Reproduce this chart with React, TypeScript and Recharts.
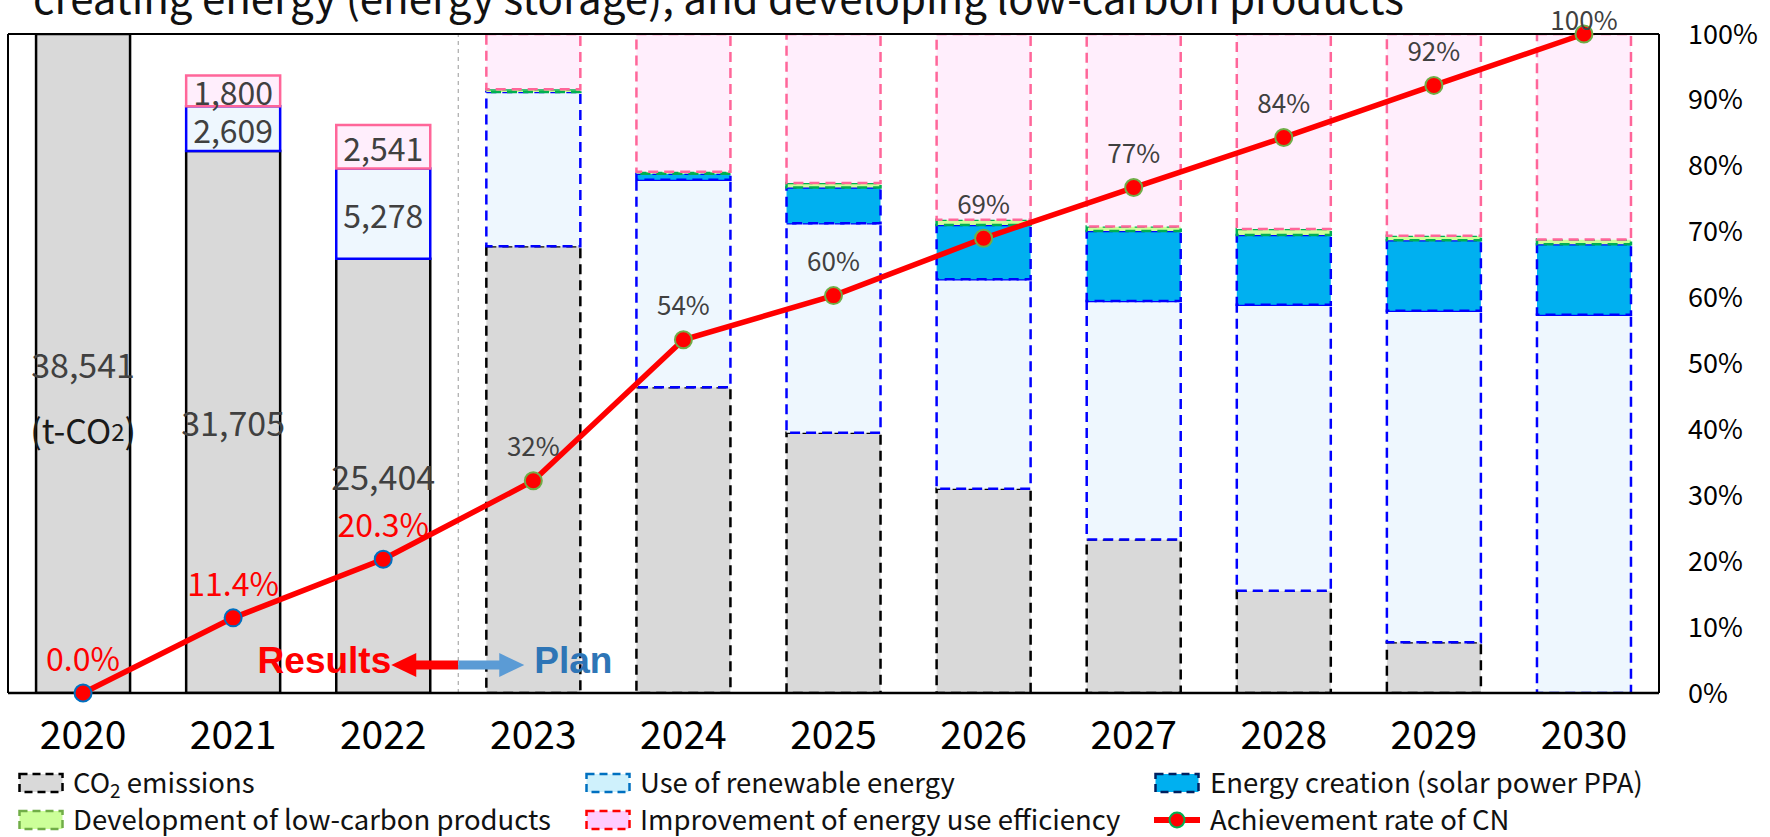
import React from 'react';
import {
  ComposedChart,
  Bar,
  Line,
  XAxis,
  YAxis,
  CartesianGrid,
  ReferenceLine,
  LabelList,
  Cell,
} from 'recharts';

// ---------------- data ----------------
const years = ['2020', '2021', '2022', '2023', '2024', '2025', '2026', '2027', '2028', '2029', '2030'];
// t-CO2
const co2Emissions = [38541, 31705, 25404, 26131, 17883, 15224, 11948, 8980, 5974, 2968, 0];
const renewableEnergy = [0, 2609, 5278, 9019, 12140, 12256, 12256, 13952, 16727, 19386, 22123];
const energyCreation = [0, 0, 0, 0, 347, 2081, 3160, 4085, 4085, 4124, 4124];
const lowCarbonProducts = [0, 0, 0, 154, 116, 270, 308, 270, 347, 270, 270];
const efficiencyImprovement = [0, 1800, 2541, 3237, 8055, 8710, 10869, 11254, 11408, 11793, 12024];
// achievement rate of carbon neutrality (fraction)
const cnAchievementRate = [0, 0.114, 0.203, 0.322, 0.536, 0.603, 0.69, 0.767, 0.843, 0.922, 1.0];
const resultYearCount = 3; // 2020-2022 are results, the rest is plan
const rateTicks = [0, 0.1, 0.2, 0.3, 0.4, 0.5, 0.6, 0.7, 0.8, 0.9, 1.0];
const gridTicks = [0, 5000, 10000, 15000, 20000, 25000, 30000, 35000];
const baseEmissions = co2Emissions[0];

const titleText = 'creating energy (energy storage), and developing low-carbon products';

const data = years.map((year, i) => {
  const isResult = i < resultYearCount;
  return {
    year,
    co2: co2Emissions[i],
    ren: renewableEnergy[i],
    ec: energyCreation[i],
    lc: lowCarbonProducts[i],
    eff: efficiencyImprovement[i],
    rate: cnAchievementRate[i],
    co2Label: isResult ? co2Emissions[i] : null,
    renLabel: isResult && renewableEnergy[i] > 0 ? renewableEnergy[i] : null,
    effLabel: isResult && efficiencyImprovement[i] > 0 ? efficiencyImprovement[i] : null,
  };
});

// ---------------- styles ----------------
const FONT = '"Noto Sans CJK JP", "Noto Sans", sans-serif';
const BOLD_FONT = '"Liberation Sans", Arial, sans-serif';
const DASH = '10 6';
const dashFor = (i: number) => (i < resultYearCount ? '0' : DASH);

const fmt = (v: number) => v.toLocaleString('en-US');

const renderCo2Label = (props: any) => {
  const { x, y, width, height, value } = props;
  if (value === null || value === undefined || value === 0) return null;
  const cx = Number(x) + Number(width) / 2;
  const cy = Number(y) + Number(height) / 2;
  const withUnit = value === baseEmissions;
  return (
    <g>
      <text x={cx} y={cy} textAnchor="middle" dominantBaseline="central" fontSize={34} fill="#404040" fontFamily={FONT}>
        {fmt(value)}
      </text>
      {withUnit && (
        <text x={cx} y={cy + 66} textAnchor="middle" dominantBaseline="central" fontSize={34} fill="#1a1a1a" fontFamily={FONT}>
          (t-CO<tspan fontSize={24}>2</tspan>)
        </text>
      )}
    </g>
  );
};

const renderSegmentLabel = (props: any) => {
  const { x, y, width, height, value } = props;
  if (value === null || value === undefined || value === 0) return null;
  const cx = Number(x) + Number(width) / 2;
  const cy = Number(y) + Number(height) / 2;
  return (
    <text x={cx} y={cy} textAnchor="middle" dominantBaseline="central" fontSize={32} fill="#404040" fontFamily={FONT}>
      {fmt(value)}
    </text>
  );
};

const renderRateLabel = (props: any) => {
  const { x, y, value, index } = props;
  if (value === null || value === undefined) return null;
  const isResult = index < resultYearCount;
  const cy = Math.max(Number(y) - 36, 18);
  if (isResult) {
    return (
      <text x={x} y={cy} textAnchor="middle" dominantBaseline="central" fontSize={32} fill="#FF0000" fontFamily={FONT}>
        {(value * 100).toFixed(1)}%
      </text>
    );
  }
  return (
    <text x={x} y={cy} textAnchor="middle" dominantBaseline="central" fontSize={26} fill="#404040" fontFamily={FONT}>
      {Math.round(value * 100)}%
    </text>
  );
};

const renderDot = (props: any) => {
  const { cx, cy, index } = props;
  if (cx == null || cy == null) return <g key={`d-${index}`} />;
  const isResult = index < resultYearCount;
  return (
    <circle
      key={`d-${index}`}
      cx={cx}
      cy={cy}
      r={8.5}
      fill="#FF0000"
      stroke={isResult ? '#0070C0' : '#70AD47'}
      strokeWidth={2}
    />
  );
};

const renderPhaseLabel = (props: any) => {
  const vb = props.viewBox || {};
  const x = Number(vb.x);
  const bottom = Number(vb.y) + Number(vb.height);
  const ay = bottom - 28;
  const head = 25;
  const half = 12;
  return (
    <g>
      <line x1={x} y1={ay} x2={x - 67 + head - 2} y2={ay} stroke="#FF0000" strokeWidth={9} />
      <polygon points={`${x - 67},${ay} ${x - 67 + head},${ay - half} ${x - 67 + head},${ay + half}`} fill="#FF0000" />
      <line x1={x} y1={ay} x2={x + 66 - head + 2} y2={ay} stroke="#5B9BD5" strokeWidth={9} />
      <polygon points={`${x + 66},${ay} ${x + 66 - head},${ay - half} ${x + 66 - head},${ay + half}`} fill="#5B9BD5" />
      <text x={x - 67} y={ay - 5} textAnchor="end" dominantBaseline="central" fontSize={37} fontWeight={700} fill="#FF0000" fontFamily={BOLD_FONT}>
        Results
      </text>
      <text x={x + 76} y={ay - 5} textAnchor="start" dominantBaseline="central" fontSize={37} fontWeight={700} fill="#2E75B6" fontFamily={BOLD_FONT}>
        Plan
      </text>
    </g>
  );
};

const renderYearTick = (props: any) => {
  const { x, y, payload } = props;
  return (
    <text x={x} y={Number(y) + 56} textAnchor="middle" fontSize={39} fill="#000" fontFamily={FONT}>
      {payload.value}
    </text>
  );
};

// ---------------- legend ----------------
type LegendItem = { label: React.ReactNode; fill?: string; stroke?: string; kind: 'box' | 'line'; left: number; textLeft: number; row: number };

const legendItems: LegendItem[] = [
  { label: <span>CO<span style={{ fontSize: 19, position: 'relative', top: 5 }}>2</span> emissions</span>, fill: '#D9D9D9', stroke: '#000000', kind: 'box', left: 18, textLeft: 73, row: 0 },
  { label: 'Use of renewable energy', fill: '#CFF1FC', stroke: '#0070C0', kind: 'box', left: 585, textLeft: 640, row: 0 },
  { label: 'Energy creation (solar power PPA)', fill: '#00B0F0', stroke: '#002060', kind: 'box', left: 1154, textLeft: 1210, row: 0 },
  { label: 'Development of low-carbon products', fill: '#CCFF99', stroke: '#70AD47', kind: 'box', left: 18, textLeft: 73, row: 1 },
  { label: 'Improvement of energy use efficiency', fill: '#FFCCFF', stroke: '#FF0000', kind: 'box', left: 585, textLeft: 640, row: 1 },
  { label: 'Achievement rate of CN', kind: 'line', left: 1154, textLeft: 1210, row: 1 },
];
const legendRowCenters = [781, 818];

const LegendIcon = ({ item }: { item: LegendItem }) => {
  if (item.kind === 'line') {
    return (
      <svg width={46} height={22}>
        <line x1={0} y1={11} x2={46} y2={11} stroke="#FF0000" strokeWidth={6} />
        <circle cx={23} cy={11} r={7.5} fill="#FF0000" stroke="#00B050" strokeWidth={2} />
      </svg>
    );
  }
  return (
    <svg width={46} height={22}>
      <rect x={1.5} y={2} width={43} height={18} fill={item.fill} stroke={item.stroke} strokeWidth={2.5} strokeDasharray="8 5" />
    </svg>
  );
};

const ChartLegend = () => (
  <>
    {legendItems.map((item, i) => (
      <React.Fragment key={i}>
        <div style={{ position: 'absolute', left: item.left, top: legendRowCenters[item.row] - 11 + 2, width: 46, height: 22 }}>
          <LegendIcon item={item} />
        </div>
        <div
          style={{
            position: 'absolute',
            left: item.textLeft,
            top: legendRowCenters[item.row] - 15,
            height: 30,
            lineHeight: '30px',
            fontSize: 27.5,
            fontFamily: FONT,
            color: '#111',
            whiteSpace: 'nowrap',
          }}
        >
          {item.label}
        </div>
      </React.Fragment>
    ))}
  </>
);

// ---------------- chart ----------------
export default function App() {
  return (
    <div style={{ position: 'absolute', left: 0, top: 0, width: 1770, height: 837, background: '#fff', overflow: 'hidden' }}>
      <ComposedChart
        width={1770}
        height={837}
        data={data}
        margin={{ top: 34, right: 0, bottom: 70, left: 7 }}
        barCategoryGap="18.7%"
      >
        <CartesianGrid yAxisId="left" vertical={false} stroke="#D9D9D9" strokeWidth={2} />
        <XAxis
          dataKey="year"
          height={74}
          interval={0}
          tickLine={false}
          tickSize={0}
          tickMargin={0}
          axisLine={{ stroke: '#000', strokeWidth: 2.5 }}
          tick={renderYearTick}
        />
        <YAxis
          yAxisId="left"
          domain={[0, baseEmissions]}
          ticks={gridTicks}
          allowDataOverflow
          tick={false}
          tickLine={false}
          axisLine={{ stroke: '#000', strokeWidth: 2 }}
          width={1}
        />
        <YAxis
          yAxisId="right"
          orientation="right"
          domain={[0, 1]}
          ticks={rateTicks}
          interval={0}
          width={111}
          tickLine={false}
          tickSize={0}
          tickMargin={29}
          axisLine={{ stroke: '#000', strokeWidth: 2 }}
          tickFormatter={(v: number) => `${Math.round(v * 100)}%`}
          tick={{ fontSize: 27, fill: '#000', fontFamily: FONT }}
        />

        <Bar dataKey="co2" stackId="s" yAxisId="left" fill="#D9D9D9" stroke="#000" strokeWidth={2.5} isAnimationActive={false}>
          {data.map((_, i) => (
            <Cell key={i} fill="#D9D9D9" stroke="#000" strokeDasharray={dashFor(i)} />
          ))}
          <LabelList dataKey="co2Label" content={renderCo2Label} />
        </Bar>
        <Bar dataKey="ren" stackId="s" yAxisId="left" fill="#EEF7FE" stroke="#0000FF" strokeWidth={2.5} isAnimationActive={false}>
          {data.map((_, i) => (
            <Cell key={i} fill="#EEF7FE" stroke="#0000FF" strokeDasharray={dashFor(i)} />
          ))}
          <LabelList dataKey="renLabel" content={renderSegmentLabel} />
        </Bar>
        <Bar dataKey="ec" stackId="s" yAxisId="left" fill="#00B0F0" stroke="#0000FF" strokeWidth={2.5} isAnimationActive={false}>
          {data.map((_, i) => (
            <Cell key={i} fill="#00B0F0" stroke="#0000FF" strokeDasharray={dashFor(i)} />
          ))}
        </Bar>
        <Bar dataKey="lc" stackId="s" yAxisId="left" fill="#CCFF99" stroke="#00B050" strokeWidth={2.5} isAnimationActive={false}>
          {data.map((_, i) => (
            <Cell key={i} fill="#CCFF99" stroke="#00B050" strokeDasharray={dashFor(i)} />
          ))}
        </Bar>
        <Bar dataKey="eff" stackId="s" yAxisId="left" fill="#FFEEFC" stroke="#FF6699" strokeWidth={2.5} isAnimationActive={false}>
          {data.map((_, i) => (
            <Cell key={i} fill="#FFEEFC" stroke="#FF6699" strokeDasharray={dashFor(i)} />
          ))}
          <LabelList dataKey="effLabel" content={renderSegmentLabel} />
        </Bar>

        <ReferenceLine
          yAxisId="left"
          x={years[resultYearCount - 1]}
          position="end"
          stroke="#AAAAAA"
          strokeWidth={1.2}
          strokeDasharray="4 4"
          label={renderPhaseLabel}
        />
        <ReferenceLine yAxisId="left" y={baseEmissions} stroke="#000" strokeWidth={2} />

        <Line
          yAxisId="right"
          dataKey="rate"
          stroke="#FF0000"
          strokeWidth={5.5}
          dot={renderDot}
          activeDot={false}
          isAnimationActive={false}
        >
          <LabelList dataKey="rate" content={renderRateLabel} />
        </Line>
      </ComposedChart>

      <svg width={1770} height={40} style={{ position: 'absolute', left: 0, top: 0, pointerEvents: 'none' }}>
        <text x={33} y={14} fontSize={42} fill="#111" fontFamily={FONT}>
          {titleText}
        </text>
      </svg>

      <ChartLegend />
    </div>
  );
}
